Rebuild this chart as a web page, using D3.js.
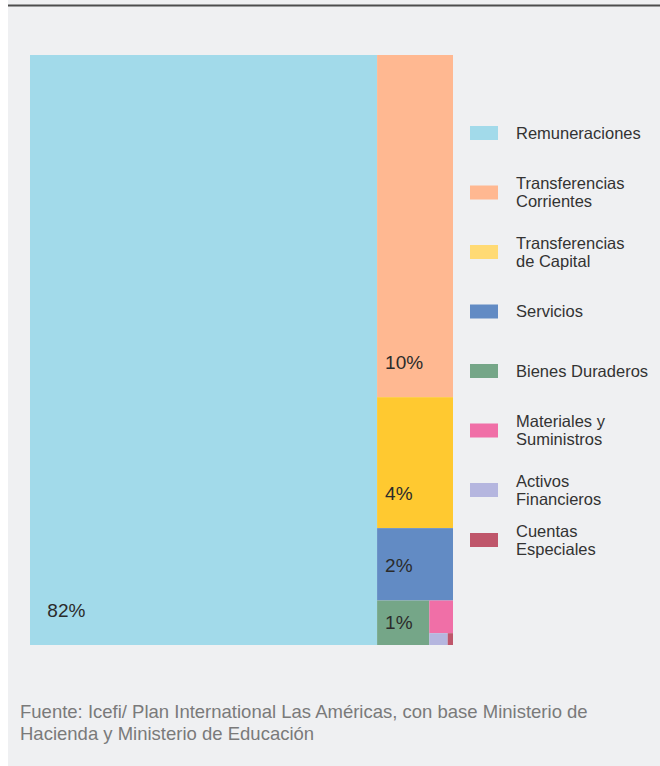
<!DOCTYPE html>
<meta charset="utf-8">
<style>
  body { margin: 0; background: #fff; }
  svg { display: block; font-family: "Liberation Sans", Arial, sans-serif; }
</style>
<svg width="660" height="766"></svg>
<script src="https://d3js.org/d3.v7.min.js"></script>
<script>

// share of the education budget, percent
var categories = ["Remuneraciones", "Transferencias Corrientes", "Transferencias de Capital",
                  "Servicios", "Bienes Duraderos", "Materiales y Suministros",
                  "Activos Financieros", "Cuentas Especiales"];
var values = [82.0, 10.4, 3.98, 2.2, 0.93, 0.31, 0.087, 0.025];
var colors = ["#a2daea", "#ffb891", "#ffc930", "#628bc4", "#75a688", "#f06fa7", "#b5b6df", "#bf566b"];
var swatchColors = ["#a2daea", "#ffb891", "#ffda74", "#628bc4", "#75a688", "#f06fa7", "#b5b6df", "#bf566b"];
// how deep each block sits in the slice/dice nesting
var nesting = [0, 1, 1, 1, 2, 3, 4, 4];

var source = ["Fuente: Icefi/ Plan International Las Américas, con base Ministerio de",
              "Hacienda y Ministerio de Educación"];

var svg = d3.select("svg"),
    width = +svg.attr("width"),
    height = +svg.attr("height");

svg.append("rect").attr("x", 8).attr("y", 0).attr("width", width - 8).attr("height", height)
  .attr("fill", "#eff0f2");
svg.append("line").attr("x1", 8).attr("x2", width).attr("y1", 5.5).attr("y2", 5.5)
  .attr("stroke", "#4d4d4d").attr("stroke-width", 2);

var items = categories.map(function(c, i){
  return {name: c, value: values[i], color: colors[i], swatch: swatchColors[i], level: nesting[i]};
});

function build(list, depth) {
  var children = [];
  for (var i = 0; i < list.length; i++) {
    if (list[i].level === depth) children.push(list[i]);
    else { children.push({children: build(list.slice(i), depth + 1)}); break; }
  }
  return children;
}

var total = d3.sum(values);
var root = d3.hierarchy({children: build(items, 0)})
  .sum(function(d){ return d.children ? 0 : d.value; });

d3.treemap()
  .tile(d3.treemapSliceDice)
  .size([423, 590])
  (root);

var g = svg.append("g").attr("transform", "translate(30,55)");

var leaves = g.selectAll("g.cell").data(root.leaves()).enter().append("g").attr("class", "cell");

leaves.append("rect")
  .attr("x", function(d){ return d.x0; })
  .attr("y", function(d){ return d.y0; })
  .attr("width", function(d){ return d.x1 - d.x0; })
  .attr("height", function(d){ return d.y1 - d.y0; })
  .attr("fill", function(d){ return d.data.color; });

leaves.filter(function(d){ return d.x1 - d.x0 > 40 && d.y1 - d.y0 > 30; })
  .append("text")
  .attr("x", function(d){ return d.x0 + Math.max(8, (d.x1 - d.x0) * 0.05); })
  .attr("y", function(d){ return Math.max((d.y0 + d.y1) / 2, d.y1 - 35); })
  .attr("dy", "0.35em")
  .attr("font-size", 19)
  .attr("fill", "#2b2b2b")
  .text(function(d){ return Math.round(d.data.value / total * 100) + "%"; });

// legend, labels wrapped at 16 characters
var legend = svg.append("g");
var rowY = function(i){ return Math.min(133 + i * 59.5, 540); };

var entry = legend.selectAll("g").data(items).enter().append("g")
  .attr("transform", function(d, i){ return "translate(0," + rowY(i) + ")"; });

entry.append("rect")
  .attr("x", 470).attr("y", -7).attr("width", 28).attr("height", 14)
  .attr("fill", function(d){ return d.swatch; });

entry.each(function(d){
  var t = d3.select(this).append("text")
    .attr("x", 516).attr("font-size", 16.5).attr("fill", "#333");
  var words = d.name.split(" "), lines = [], line = "";
  words.forEach(function(w){
    var next = line ? line + " " + w : w;
    if (next.length > 16 && line) { lines.push(line); line = w; }
    else line = next;
  });
  lines.push(line);
  var lh = 18;
  lines.forEach(function(l, k){
    t.append("tspan").attr("x", 516)
      .attr("y", (k - (lines.length - 1) / 2) * lh)
      .attr("dy", "0.35em")
      .text(l);
  });
});

svg.append("g").selectAll("text").data(source).enter().append("text")
  .attr("x", 20)
  .attr("y", function(d, i){ return 718 + i * 22; })
  .attr("font-size", 18.5)
  .attr("fill", "#7a7a7a")
  .text(function(d){ return d; });

</script>
